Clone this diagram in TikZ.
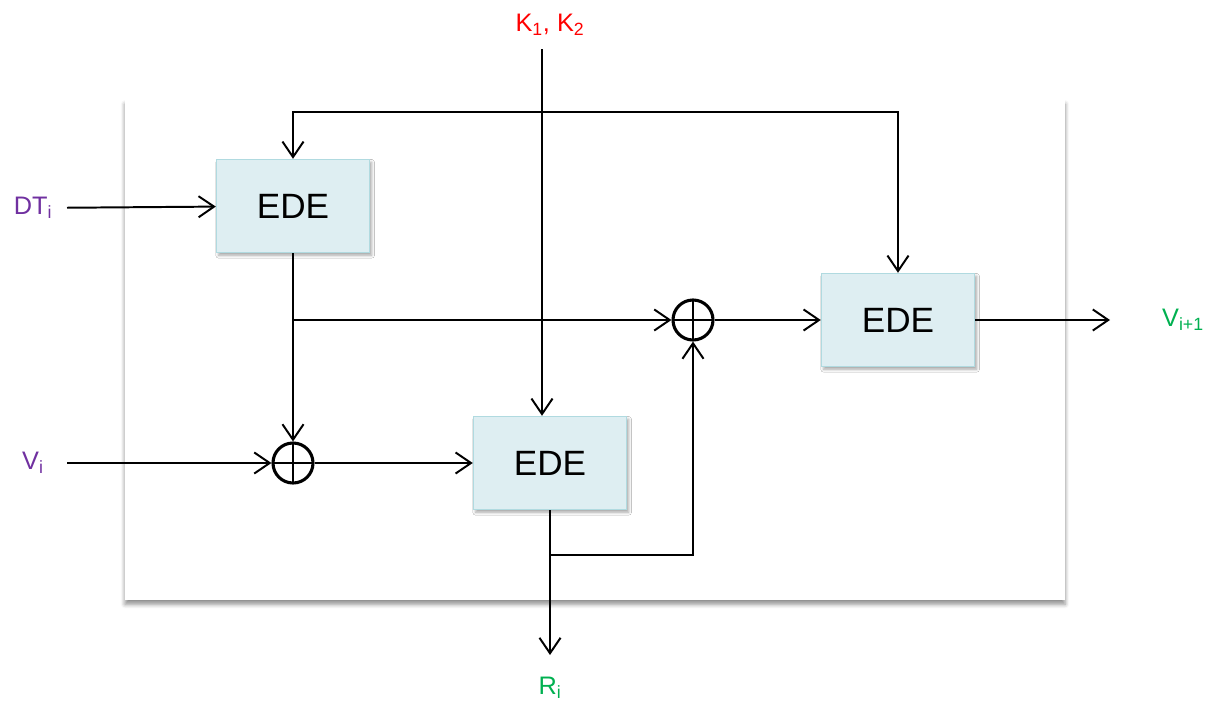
\documentclass[tikz,border=0pt]{standalone}
\usepackage{fontspec}
\setmainfont{Liberation Sans}
\usepackage{tikz}
\usetikzlibrary{arrows.meta,positioning,calc,shadows.blur}
\definecolor{edeFill}{RGB}{222,238,242}
\definecolor{edeLine}{RGB}{176,218,224}
\definecolor{inPurple}{RGB}{112,48,160}
\definecolor{keyRed}{RGB}{255,0,0}
\definecolor{outGreen}{RGB}{0,176,80}

\begin{document}
\begin{tikzpicture}[
        x=0.025cm, y=-0.025cm,
        >={Straight Barb[length=11pt,width=15pt]},
        wire/.style={->, line width=1.4pt},
        ede/.style={draw=edeLine, fill=edeFill, line width=1pt,
          minimum width=3.825cm, minimum height=2.325cm,
          font=\fontsize{25}{30}\selectfont,
          blur shadow={shadow xshift=1.5pt, shadow yshift=-2pt, shadow blur radius=2pt, shadow opacity=35}},
        xorg/.style={circle, draw, line width=2.2pt, minimum size=1cm, inner sep=0pt,
          path picture={\draw[line width=1.6pt]
            (path picture bounding box.north) -- (path picture bounding box.south)
            (path picture bounding box.west) -- (path picture bounding box.east);}},
        lbl/.style={font=\fontsize{18}{21}\selectfont},
      ]
        \useasboundingbox (0,0) rectangle (1207,704);

        % round frame
        \path[fill=white, blur shadow={shadow xshift=0pt, shadow yshift=-3pt, shadow blur radius=3pt, shadow opacity=45}]
          (125,100) rectangle (1065,600);

        % blocks
        \node[ede] (ede1) at (293,206) {EDE};
        \node[ede] (ede2) at (550,463) {EDE};
        \node[ede] (ede3) at (898,320) {EDE};
        \node[xorg] (xor1) at (293,463) {};
        \node[xorg] (xor2) at (693,320) {};

        % inputs and outputs
        \node[lbl, text=inPurple] (dt) at (33,208) {DT\textsubscript{i}};
        \node[lbl, text=inPurple] (vi) at (33,463) {V\textsubscript{i}};
        \node[lbl, text=keyRed] (key) at (550,25) {K\textsubscript{1}, K\textsubscript{2}};
        \node[lbl, text=outGreen] (vout) at (1183,320) {V\textsubscript{i+1}};
        \node[lbl, text=outGreen] (ri) at (550,688) {R\textsubscript{i}};
        \coordinate (fb) at (600,112);
        \coordinate (vend) at (1110,320);
        \coordinate (rend) at (550,655);
        \coordinate (br2) at (550,555);

        % wires
        \draw[wire, shorten <=7pt] (dt) -- (ede1);
        \draw[wire, shorten <=7pt] (vi -| dt.east) -- (xor1);
        \draw[wire, shorten <=6pt] ([xshift=-0.2cm]key.south) -- ([xshift=-0.2cm]ede2.north);
        \draw[wire, <->] (ede1.north) |- (fb) -| (ede3.north);
        \draw[wire] (ede1) -- (xor1);
        \draw[wire] (ede1 |- xor2) -- (xor2);
        \draw[wire] (xor1) -- (ede2);
        \draw[wire] (xor2) -- (ede3);
        \draw[wire] (ede3) -- (vend);
        \draw[wire] (ede2) -- (rend);
        \draw[wire] (br2) -| (xor2);
      \end{tikzpicture}
\end{document}
